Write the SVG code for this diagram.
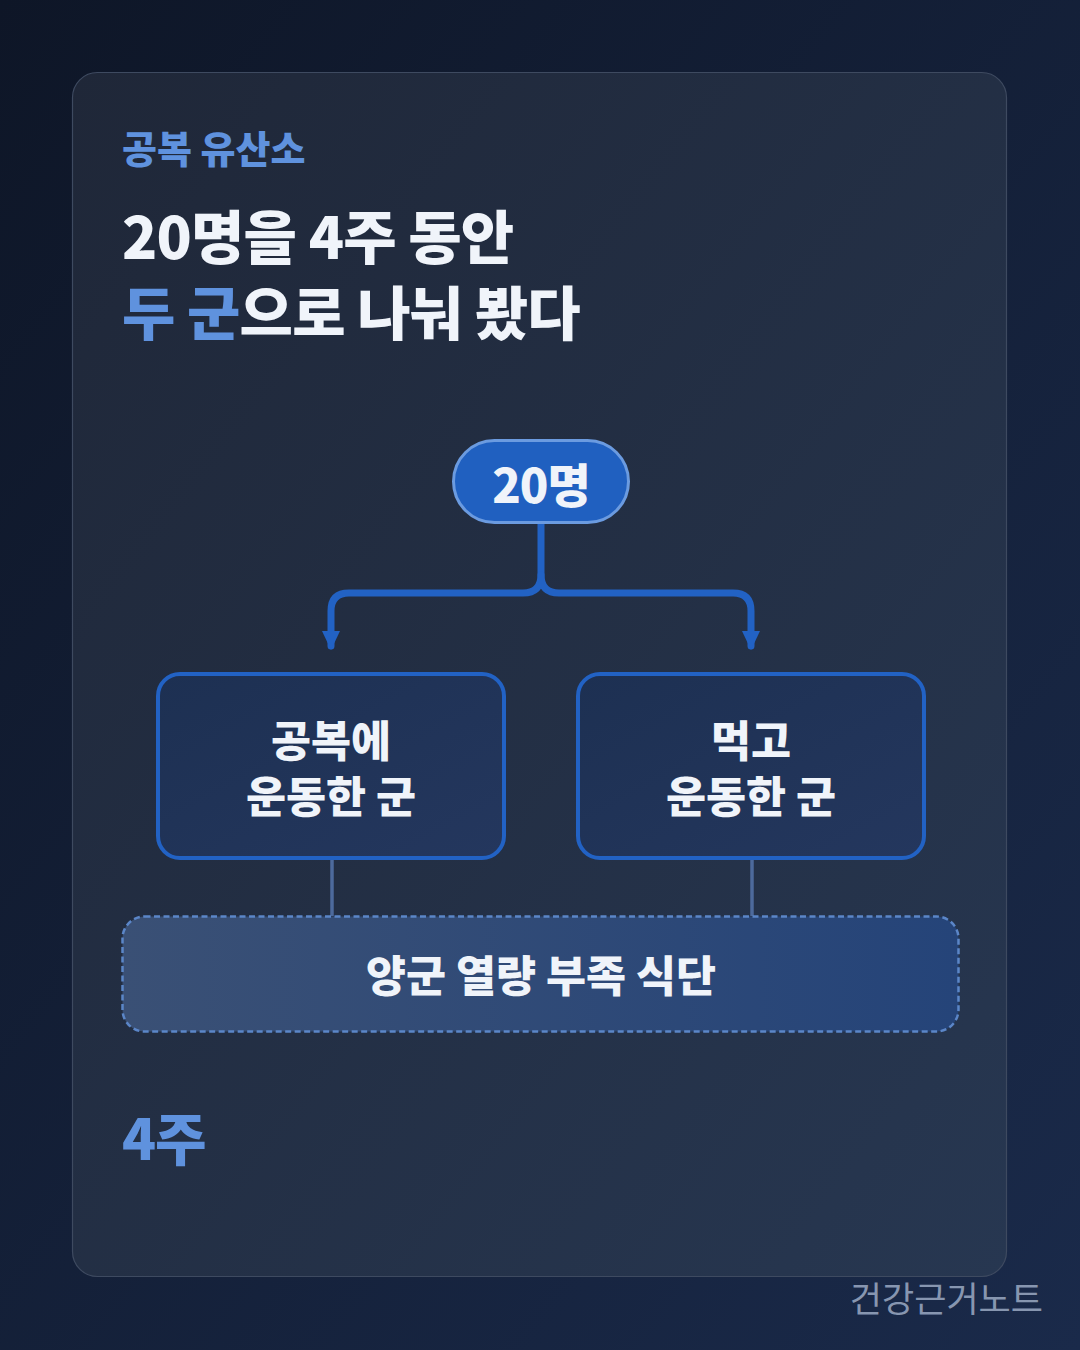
<svg xmlns="http://www.w3.org/2000/svg" width="1080" height="1350" viewBox="0 0 1080 1350">
<defs>
<linearGradient id="bg" x1="0" y1="0" x2="1" y2="1">
<stop offset="0" stop-color="#0e1627"/>
<stop offset="1" stop-color="#1a2a4a"/>
</linearGradient>
<linearGradient id="card" x1="0" y1="0" x2="1" y2="1">
<stop offset="0" stop-color="#1f2738"/>
<stop offset="1" stop-color="#273751"/>
</linearGradient>
<linearGradient id="box" x1="0" y1="0" x2="1" y2="1">
<stop offset="0" stop-color="#1d3052"/>
<stop offset="1" stop-color="#24375e"/>
</linearGradient>
<linearGradient id="base" x1="0" y1="0" x2="1" y2="0">
<stop offset="0" stop-color="#3a5075"/>
<stop offset="1" stop-color="#254479"/>
</linearGradient>
<style>
text{font-family:"Noto Sans CJK KR","Noto Sans",sans-serif;}
.b{font-weight:900;}
.w{fill:#f0f4fa;}
.blue{fill:#5f92de;}
.node{fill:url(#box);stroke:#2262c4;stroke-width:4;}
.lbl{font-size:43.5px;font-weight:900;fill:#f0f4fa;text-anchor:middle;}
.conn{fill:none;stroke:#2262c4;stroke-width:7;stroke-linecap:round;stroke-linejoin:round;}
.thin{stroke:#4d6a9c;stroke-width:3.5;}
</style>
</defs>
<rect width="1080" height="1350" fill="url(#bg)"/>
<rect x="72.5" y="72.5" width="934" height="1204" rx="25" fill="url(#card)" stroke="#3e4a60" stroke-width="1.2"/>
<text x="122" y="163" class="b blue" font-size="38">공복 유산소</text>
<text class="b w" font-size="58" letter-spacing="-0.8"><tspan x="122" y="259">20명을 4주 동안</tspan><tspan x="122" y="335"><tspan class="blue">두 군</tspan>으로 나눠 봤다</tspan></text>

<g id="connectors">
<path class="conn" d="M541 524 V575 Q541 593 523 593 H349 Q331 593 331 611 V646"/>
<path class="conn" d="M541 575 Q541 593 559 593 H733 Q751 593 751 611 V646"/>
<polygon points="322,631 340,631 331,650" fill="#2262c4"/>
<polygon points="742,631 760,631 751,650" fill="#2262c4"/>
<line class="thin" x1="332" y1="860" x2="332" y2="916"/>
<line class="thin" x1="752" y1="860" x2="752" y2="916"/>
</g>

<g id="node-total">
<rect x="453.5" y="440.5" width="175" height="82" rx="41" fill="#2060c0" stroke="#6b9be0" stroke-width="3"/>
<text x="541" y="503" class="b w" font-size="47" text-anchor="middle" letter-spacing="-1">20명</text>
</g>

<g id="node-fasted">
<rect class="node" x="158" y="674" width="346" height="184" rx="22"/>
<text class="lbl"><tspan x="331" y="757">공복에</tspan><tspan x="331" y="813">운동한 군</tspan></text>
</g>

<g id="node-fed">
<rect class="node" x="578" y="674" width="346" height="184" rx="22"/>
<text class="lbl"><tspan x="751" y="757">먹고</tspan><tspan x="751" y="813">운동한 군</tspan></text>
</g>

<g id="node-diet">
<rect x="122.5" y="916.5" width="836" height="115" rx="22" fill="url(#base)" stroke="#5b86c8" stroke-width="2.5" stroke-dasharray="6 3.5"/>
<text x="541" y="992" class="b w" font-size="43.5" text-anchor="middle">양군 열량 부족 식단</text>
</g>

<text x="122" y="1160" class="b blue" font-size="56" letter-spacing="-1">4주</text>
<text x="1043" y="1312" font-size="35" fill="#8796b0" text-anchor="end">건강근거노트</text>
</svg>
